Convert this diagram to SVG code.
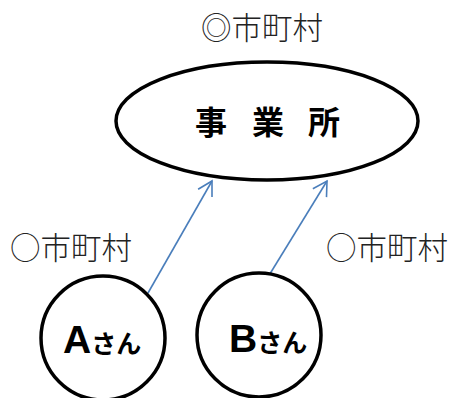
<svg xmlns="http://www.w3.org/2000/svg" width="457" height="398" viewBox="0 0 457 398">
<style>
.shape{fill:#fff;stroke:#000;stroke-width:3.5}
.lbl{font-family:"Noto Sans CJK JP","Noto Sans CJK SC",sans-serif;font-size:30.5px;font-weight:300;fill:#222}
.title{font-family:"Noto Sans CJK JP",sans-serif;font-size:32px;font-weight:bold;fill:#000;text-anchor:middle}
.big{font-family:"Liberation Sans",Arial,sans-serif;font-size:39px;font-weight:bold;fill:#000}
.small{font-family:"Noto Sans CJK JP",sans-serif;font-size:25px;font-weight:bold;fill:#000}
.conn{stroke:#4a7ebb;stroke-width:1.6;fill:none}
</style>
<defs>
<marker id="arr" viewBox="0 0 20 20" refX="16" refY="10" markerWidth="20" markerHeight="20" markerUnits="userSpaceOnUse" orient="auto">
<path d="M2,2 L16,10 L2,18" fill="none" stroke="#4a7ebb" stroke-width="1.6"/>
</marker>
</defs>
<text class="lbl" x="201" y="39">◎市町村</text>
<g id="office">
<ellipse class="shape" cx="267" cy="121" rx="151" ry="59"/>
<text class="title" x="211" y="134">事</text>
<text class="title" x="268" y="134">業</text>
<text class="title" x="324" y="134">所</text>
</g>
<g id="connectors">
<line class="conn" x1="148" y1="293" x2="212" y2="181" marker-end="url(#arr)"/>
<line class="conn" x1="268" y1="277" x2="327" y2="181" marker-end="url(#arr)"/>
</g>
<text class="lbl" x="10" y="259">○市町村</text>
<text class="lbl" x="326" y="259">○市町村</text>
<g id="a">
<circle class="shape" cx="103" cy="338" r="62"/>
<text x="63" y="353"><tspan class="big">A</tspan><tspan class="small">さん</tspan></text>
</g>
<g id="b">
<circle class="shape" cx="259" cy="335" r="62"/>
<text x="229" y="352"><tspan class="big">B</tspan><tspan class="small">さん</tspan></text>
</g>
</svg>
